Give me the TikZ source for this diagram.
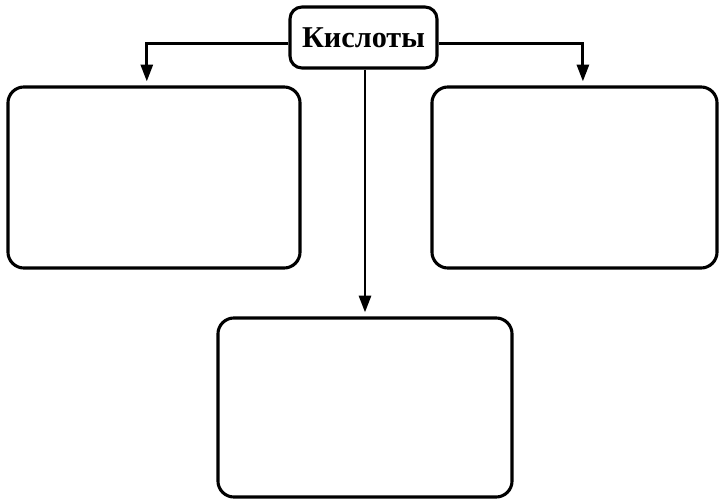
\documentclass[tikz,border=0pt]{standalone}
\usepackage{fontspec}
\setmainfont{Liberation Serif}
\usetikzlibrary{arrows.meta, positioning}

\tikzset{
    box/.style={draw, line width=2.2pt, rounded corners=0.4cm, inner sep=0pt},
    link/.style={line width=2pt, -{Triangle[length=0.42cm, width=0.3cm]}, shorten >=0.1cm}
}

\begin{document}
\begin{tikzpicture}[x=0.025cm, y=-0.025cm]
    \useasboundingbox (0,0) rectangle (719,499);

    % top node
    \node[box, rounded corners=0.3cm, minimum width=3.675cm, minimum height=1.525cm,
          font=\bfseries\fontsize{21.5}{24}\selectfont] (acids) at (363.5,37.5) {Кислоты};

    % empty boxes
    \node[box, minimum width=7.3cm, minimum height=4.525cm] (leftbox) at (154,177.5) {};
    \node[box, minimum width=7.125cm, minimum height=4.525cm] (rightbox) at (574.5,177.5) {};
    \node[box, minimum width=7.35cm, minimum height=4.475cm] (bottombox) at (365,407.5) {};

    % connectors
    \draw[link] ([yshift=-0.14cm]acids.west) -| ([xshift=-0.18cm]leftbox.north);
    \draw[link] ([yshift=-0.14cm]acids.east) -| ([xshift=0.21cm]rightbox.north);
    \draw[link] (acids.south -| bottombox.north) -- (bottombox.north);
\end{tikzpicture}
\end{document}
